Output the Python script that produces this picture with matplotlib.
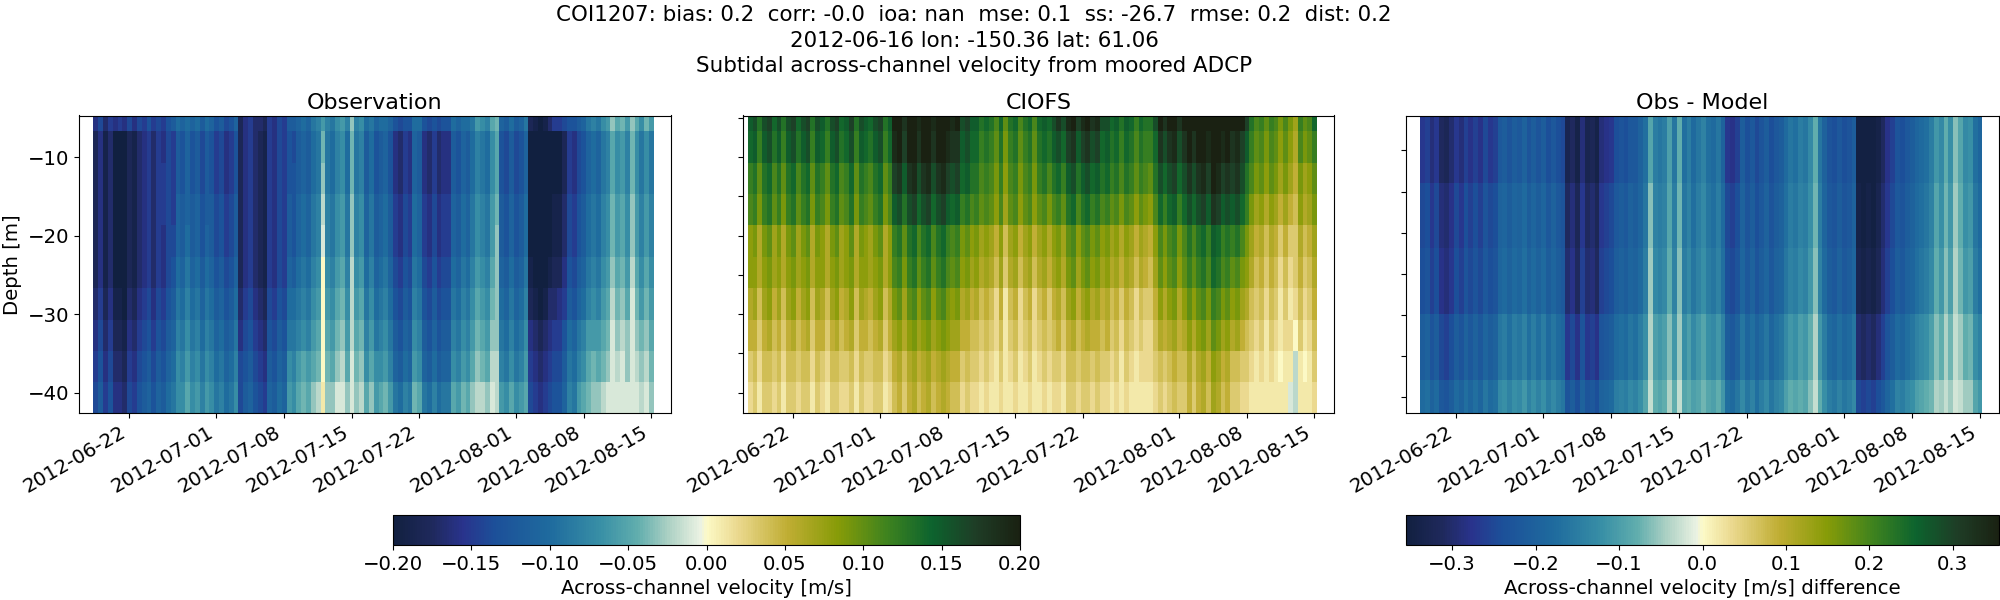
import numpy as np
import pandas as pd
import matplotlib
matplotlib.use('Agg')
import matplotlib.pyplot as plt
import matplotlib.dates as mdates
from matplotlib.colors import LinearSegmentedColormap

# across-channel velocity, cm/s, one list per depth bin
obs_06 = [-16,-14,-17,-15,-16,-15,-16,-14,-16,-14,-15,-13,-15,-14,-15,-13,-12,-10,-11,-10,
 -11,-10,-12,-10,-11,-13,-12,-14,-13,-11,-18,-16,-15,-17,-17,-18,-15,-16,-14,-15,
 -12,-12,-11,-10,-11,-9,-8,-6,-8,-9,-7,-6,-8,-3,-8,-7,-10,-9,-11,-10,
 -10,-11,-13,-14,-13,-13,-10,-10,-13,-14,-13,-14,-13,-13,-10,-11,-10,-10,-9,-6,
 -7,-8,-5,-4,-11,-12,-10,-12,-11,-9,-18,-19,-20,-19,-17,-15,-15,-14,-13,-13,
 -12,-11,-9,-8,-9,-7,-6,-3,-5,-4,-6,-3,-5,-7,-4,-6]
obs_09 = [-18,-16,-19,-17,-20,-20,-21,-18,-19,-17,-16,-15,-17,-15,-16,-14,-15,-12,-13,-11,
 -13,-12,-14,-12,-13,-15,-14,-16,-15,-13,-18,-16,-15,-17,-18,-19,-15,-16,-14,-15,
 -13,-14,-12,-11,-12,-10,-9,-4,-9,-10,-8,-7,-10,-4,-9,-8,-12,-10,-13,-12,
 -11,-13,-16,-17,-15,-16,-11,-12,-16,-17,-15,-17,-16,-16,-12,-13,-11,-12,-10,-8,
 -9,-10,-7,-5,-13,-14,-12,-14,-13,-11,-21,-22,-23,-22,-21,-20,-20,-18,-15,-16,
 -14,-13,-11,-10,-11,-9,-8,-5,-7,-6,-8,-4,-7,-9,-7,-9]
obs_13 = [-18,-16,-19,-17,-20,-20,-21,-18,-19,-17,-16,-15,-17,-15,-15,-14,-15,-12,-13,-11,
 -13,-12,-14,-12,-13,-15,-14,-16,-15,-13,-18,-16,-15,-17,-18,-19,-15,-16,-14,-15,
 -13,-13,-12,-11,-12,-10,-9,-3,-9,-10,-8,-7,-10,-4,-9,-8,-12,-10,-13,-12,
 -11,-13,-16,-17,-15,-16,-11,-12,-16,-17,-15,-17,-16,-16,-12,-13,-11,-12,-10,-8,
 -9,-10,-7,-5,-13,-14,-12,-14,-13,-11,-21,-22,-23,-22,-21,-20,-20,-18,-15,-16,
 -14,-13,-11,-10,-11,-9,-8,-5,-7,-6,-8,-4,-7,-9,-7,-9]
obs_17 = [-18,-16,-19,-17,-20,-20,-21,-18,-19,-17,-16,-15,-17,-15,-15,-14,-15,-11,-12,-11,
 -12,-11,-13,-12,-12,-14,-13,-15,-14,-12,-18,-16,-15,-17,-18,-19,-15,-16,-14,-15,
 -12,-13,-11,-10,-11,-9,-8,-2,-8,-9,-7,-6,-9,-3,-8,-7,-11,-9,-12,-11,
 -10,-12,-15,-16,-14,-15,-10,-11,-15,-16,-14,-16,-15,-15,-11,-12,-10,-11,-9,-7,
 -8,-9,-6,-4,-12,-13,-11,-13,-12,-10,-20,-21,-22,-21,-20,-19,-19,-17,-14,-15,
 -13,-12,-10,-9,-10,-8,-7,-4,-6,-5,-7,-3,-6,-8,-6,-8]
obs_21 = [-18,-16,-19,-17,-20,-20,-21,-18,-19,-17,-16,-15,-17,-15,-16,-14,-14,-11,-12,-10,
 -12,-11,-13,-11,-12,-14,-13,-15,-14,-12,-18,-16,-15,-17,-18,-19,-15,-16,-14,-15,
 -12,-13,-11,-10,-11,-9,-8,-1,-8,-9,-7,-6,-9,-3,-8,-7,-11,-9,-12,-11,
 -10,-12,-15,-16,-14,-15,-10,-11,-15,-16,-14,-16,-15,-15,-11,-12,-10,-11,-9,-7,
 -8,-9,-6,-3,-12,-13,-11,-13,-12,-10,-20,-21,-22,-21,-20,-19,-19,-17,-14,-15,
 -13,-12,-10,-9,-10,-8,-7,-4,-6,-5,-7,-3,-6,-8,-6,-8]
obs_25 = [-18,-16,-19,-17,-20,-20,-21,-18,-19,-17,-16,-15,-17,-15,-16,-14,-13,-10,-11,-9,
 -11,-10,-12,-10,-11,-13,-12,-14,-13,-11,-18,-16,-15,-17,-18,-19,-15,-16,-14,-15,
 -11,-12,-10,-9,-10,-8,-7,0,-7,-8,-6,-5,-8,-2,-7,-6,-10,-8,-11,-10,
 -9,-11,-14,-15,-13,-14,-9,-10,-14,-15,-13,-15,-14,-14,-10,-11,-9,-10,-8,-6,
 -7,-8,-5,-3,-11,-12,-10,-12,-11,-9,-19,-20,-21,-20,-19,-18,-18,-16,-13,-14,
 -12,-11,-9,-8,-9,-7,-6,-3,-5,-4,-6,-2,-5,-7,-5,-7]
obs_29 = [-17,-15,-18,-16,-19,-19,-20,-17,-18,-16,-15,-14,-16,-14,-15,-13,-12,-9,-10,-8,
 -10,-9,-11,-9,-10,-12,-11,-13,-12,-10,-17,-15,-14,-16,-17,-18,-14,-15,-13,-14,
 -10,-10,-9,-8,-9,-7,-6,0,-6,-7,-5,-4,-7,-2,-6,-5,-9,-7,-10,-9,
 -8,-10,-13,-14,-12,-13,-8,-9,-13,-14,-12,-14,-13,-13,-9,-10,-8,-9,-7,-5,
 -6,-7,-4,-3,-10,-11,-9,-11,-10,-8,-18,-19,-20,-19,-17,-17,-16,-15,-12,-13,
 -11,-10,-8,-7,-8,-6,-5,-2,-4,-3,-5,-1,-4,-6,-4,-6]
obs_33 = [-16,-14,-17,-15,-18,-18,-19,-16,-17,-15,-14,-13,-15,-13,-14,-12,-11,-8,-9,-7,
 -9,-8,-10,-8,-9,-11,-10,-12,-11,-9,-16,-14,-13,-15,-16,-17,-13,-14,-12,-13,
 -9,-9,-8,-7,-8,-6,-5,0,-5,-6,-4,-3,-6,-2,-5,-4,-8,-6,-9,-8,
 -7,-9,-12,-13,-11,-12,-7,-8,-12,-13,-11,-13,-12,-12,-8,-9,-7,-8,-6,-4,
 -5,-6,-3,-3,-9,-10,-8,-10,-9,-7,-16,-17,-18,-17,-16,-15,-15,-13,-10,-11,
 -9,-8,-6,-6,-6,-5,-4,-1,-3,-2,-3,-1,-3,-4,-3,-5]
obs_37 = [-15,-13,-16,-14,-17,-17,-18,-15,-16,-14,-13,-12,-14,-12,-13,-11,-10,-7,-8,-6,
 -8,-7,-9,-7,-8,-10,-9,-11,-10,-8,-14,-13,-12,-14,-15,-16,-12,-13,-11,-12,
 -7,-8,-6,-5,-6,-5,-4,0,-4,-5,-3,-2,-5,-1,-4,-3,-7,-5,-7,-7,
 -6,-8,-11,-12,-10,-11,-6,-7,-11,-12,-10,-12,-11,-11,-7,-8,-6,-7,-5,-3,
 -4,-5,-2,-2,-8,-9,-7,-9,-8,-6,-15,-16,-17,-16,-15,-14,-14,-12,-9,-10,
 -8,-7,-5,-4,-5,-4,-3,-1,-2,-1,-3,-1,-2,-3,-2,-4]
obs_41 = [-14,-12,-15,-13,-16,-16,-17,-14,-15,-13,-12,-11,-13,-11,-12,-10,-9,-7,-7,-5,
 -7,-6,-8,-6,-7,-9,-8,-10,-9,-7,-14,-12,-11,-13,-14,-15,-11,-12,-10,-11,
 -6,-7,-5,-4,-5,-3,-2,1,-3,-3,-1,-1,-3,-1,-3,-2,-5,-3,-6,-5,
 -4,-6,-9,-10,-8,-9,-4,-5,-9,-10,-8,-10,-9,-9,-5,-6,-4,-5,-3,-2,
 -2,-3,-1,-2,-6,-7,-5,-7,-6,-5,-14,-15,-16,-15,-14,-13,-13,-11,-8,-9,
 -6,-5,-4,-3,-3,-2,-1,-1,-1,-1,-1,-1,-1,-2,-1,-3]

mod_06 = [15,16,13,16,17,14,16,13,16,17,14,16,17,13,16,15,13,16,17,14,
 15,17,13,16,15,14,16,17,13,15,20,21,18,21,22,19,21,22,19,21,
 22,20,19,20,16,17,15,15,13,14,13,11,14,10,13,14,11,13,14,11,
 14,15,14,16,18,16,19,20,17,19,20,18,19,16,16,14,15,13,15,14,
 12,14,13,13,16,20,18,20,21,18,20,22,20,22,23,21,24,23,21,22,
 21,22,20,17,13,11,12,10,12,11,9,11,9,7,12,10,11,14]
mod_09 = [14,15,12,15,16,13,15,12,15,16,13,15,16,12,15,14,12,15,16,13,
 14,16,12,15,14,13,15,16,12,14,19,20,17,20,21,18,20,21,18,20,
 21,19,18,18,15,16,14,14,12,13,12,10,13,9,12,13,10,12,13,10,
 13,14,13,15,16,14,17,18,15,17,18,16,17,14,15,13,14,12,14,13,
 11,13,12,12,14,18,16,18,19,16,18,20,18,20,21,19,22,21,19,20,
 18,19,17,15,12,10,11,9,11,10,8,10,8,6,11,9,10,12]
mod_13 = [12,13,10,13,14,11,13,10,13,14,11,13,14,10,13,12,10,13,14,11,
 12,14,10,13,12,11,13,14,10,12,17,18,15,18,19,16,18,19,16,18,
 19,17,16,17,14,15,13,13,11,12,11,9,12,8,11,12,9,11,12,9,
 12,13,11,13,14,12,15,16,13,15,16,14,15,13,14,12,13,11,13,12,
 10,12,11,10,13,16,14,16,17,14,16,18,16,18,19,17,20,19,17,18,
 17,18,16,13,11,9,10,8,10,9,7,9,7,5,9,7,8,10]
mod_17 = [11,12,9,12,13,10,12,9,12,13,10,12,13,9,12,11,9,12,13,10,
 11,13,9,12,11,10,12,13,9,11,15,16,13,16,17,14,16,17,14,16,
 17,15,14,15,12,13,11,12,10,11,10,8,11,7,10,11,8,10,11,8,
 10,11,9,11,12,10,13,14,11,13,14,12,13,11,12,10,11,9,11,10,
 8,10,9,8,11,14,12,14,15,12,14,16,14,16,17,15,18,17,15,16,
 15,16,14,12,9,7,8,6,8,7,5,7,5,4,8,6,7,9]
mod_21 = [8,9,6,9,10,7,9,6,9,10,7,9,10,6,9,8,6,9,10,7,
 8,10,6,9,8,7,9,10,6,8,12,13,10,13,14,11,13,14,11,13,
 14,12,11,12,9,10,8,9,7,8,7,5,8,4,7,8,5,7,8,5,
 7,8,6,8,9,7,10,11,8,10,11,9,10,8,9,7,8,6,8,7,
 5,7,6,5,8,11,9,11,12,9,11,13,11,13,14,12,15,14,12,13,
 12,13,11,9,7,5,6,4,6,5,3,5,3,3,6,4,5,7]
mod_25 = [8,8,6,8,9,7,8,6,8,9,7,8,9,6,8,8,6,8,9,7,
 8,9,6,8,8,7,8,9,6,8,11,12,9,12,13,10,12,13,10,12,
 13,11,10,11,8,9,7,8,6,7,6,4,7,3,6,7,4,6,7,4,
 6,7,5,7,8,6,9,10,7,9,10,8,9,7,8,6,7,5,7,6,
 4,6,5,4,7,10,8,10,11,8,10,12,10,12,13,11,14,13,11,12,
 10,11,9,8,6,4,5,3,5,4,2,4,2,3,5,3,4,6]
mod_29 = [6,7,4,7,8,5,7,4,7,8,5,7,8,4,7,6,4,7,8,5,
 6,8,4,7,6,5,7,8,4,6,9,10,7,10,11,8,10,11,8,10,
 11,9,8,9,6,7,5,6,4,5,4,2,5,1,4,5,2,4,5,2,
 4,5,3,5,6,4,7,8,5,7,8,6,7,5,6,4,5,3,5,4,
 2,4,3,3,5,8,6,8,9,6,8,10,8,10,11,9,12,11,9,10,
 8,9,7,6,4,3,4,2,4,3,1,3,1,2,4,2,3,5]
mod_33 = [5,5,3,5,6,4,5,3,5,6,4,5,6,3,5,5,3,5,6,4,
 5,6,3,5,5,4,5,6,3,5,7,8,6,8,9,7,8,9,7,8,
 9,8,7,7,5,5,4,4,3,4,3,2,4,1,3,4,2,3,4,2,
 3,4,3,4,5,3,5,6,4,5,6,5,5,4,5,3,4,2,4,3,
 2,3,2,2,4,6,5,6,7,5,6,8,6,8,9,7,10,9,7,8,
 6,7,5,4,3,2,3,1,3,2,1,2,2,0,3,1,2,4]
mod_37 = [3,4,2,4,4,3,4,2,4,4,3,4,4,2,4,3,2,4,4,3,
 3,4,2,4,3,3,4,4,2,3,5,6,4,6,7,5,6,7,5,6,
 7,6,5,5,3,4,3,3,2,3,2,1,3,1,2,3,1,2,3,1,
 2,3,2,3,3,2,4,4,3,4,4,3,4,3,3,2,3,1,3,2,
 1,2,2,2,3,4,3,4,5,4,4,6,4,6,7,5,8,7,5,6,
 4,4,3,3,2,1,2,1,2,1,0,1,1,-2,1,0,1,3]
mod_41 = [2,3,1,3,3,2,3,1,3,3,2,3,3,1,3,2,1,3,3,2,
 2,3,1,3,2,2,3,3,1,2,4,5,3,5,6,4,5,6,4,5,
 6,5,4,4,2,3,2,2,1,2,1,1,2,1,1,2,1,1,2,1,
 1,2,1,2,2,1,3,3,2,3,3,2,3,2,2,1,2,1,2,1,
 1,1,1,1,2,3,2,3,4,3,3,5,3,5,6,4,7,6,4,5,
 3,3,2,2,1,1,1,1,1,1,1,1,-1,-2,1,1,1,2]

diff_10 = [-27,-26,-29,-27,-31,-32,-30,-27,-29,-26,-28,-26,-28,-25,-27,-26,-22,-21,-23,-21,
 -22,-20,-23,-21,-23,-21,-24,-22,-24,-25,-33,-31,-34,-29,-33,-32,-34,-29,-28,-27,
 -24,-23,-24,-22,-22,-20,-17,-9,-15,-16,-15,-10,-16,-8,-17,-15,-18,-16,-14,-17,
 -18,-16,-20,-27,-28,-26,-21,-24,-22,-25,-23,-21,-24,-22,-21,-18,-16,-17,-15,-16,
 -13,-8,-16,-20,-23,-24,-22,-24,-23,-21,-35,-35,-35,-35,-34,-31,-28,-26,-23,-24,
 -22,-21,-19,-18,-17,-15,-11,-13,-8,-12,-6,-9,-13,-12,-17,-19]
diff_18 = [-25,-24,-27,-25,-29,-30,-28,-25,-27,-24,-26,-24,-26,-23,-25,-24,-20,-19,-21,-19,
 -20,-18,-21,-19,-21,-19,-22,-20,-22,-23,-31,-29,-32,-27,-31,-30,-32,-27,-26,-25,
 -22,-21,-22,-20,-21,-19,-16,-6,-14,-15,-14,-9,-15,-7,-16,-14,-17,-15,-13,-16,
 -17,-15,-18,-25,-26,-24,-20,-23,-21,-24,-22,-20,-23,-21,-20,-17,-15,-16,-14,-15,
 -12,-7,-15,-19,-22,-23,-21,-23,-22,-20,-34,-35,-34,-35,-33,-30,-27,-25,-22,-23,
 -21,-20,-18,-17,-16,-14,-9,-12,-7,-11,-5,-8,-12,-11,-16,-18]
diff_26 = [-24,-23,-26,-24,-28,-29,-27,-24,-26,-23,-25,-23,-25,-22,-24,-23,-19,-18,-20,-18,
 -19,-17,-20,-18,-20,-18,-21,-19,-21,-22,-30,-28,-31,-26,-30,-29,-31,-26,-25,-24,
 -21,-20,-21,-19,-20,-18,-15,-5,-13,-14,-13,-8,-14,-6,-15,-13,-16,-14,-12,-15,
 -16,-14,-17,-24,-25,-23,-19,-22,-20,-23,-21,-19,-22,-20,-19,-16,-14,-15,-13,-14,
 -11,-6,-14,-18,-21,-22,-20,-22,-21,-19,-33,-34,-33,-34,-32,-29,-26,-24,-21,-22,
 -20,-19,-17,-16,-15,-13,-8,-11,-6,-10,-4,-7,-11,-10,-15,-17]
diff_34 = [-21,-20,-23,-21,-25,-26,-24,-21,-23,-20,-22,-20,-22,-19,-21,-20,-16,-15,-17,-15,
 -16,-14,-17,-15,-17,-15,-18,-16,-18,-19,-27,-25,-28,-23,-27,-26,-28,-23,-22,-21,
 -18,-17,-18,-16,-17,-15,-12,-4,-10,-11,-10,-6,-11,-5,-12,-10,-13,-11,-9,-12,
 -13,-11,-14,-21,-22,-20,-16,-19,-17,-20,-18,-16,-19,-17,-16,-13,-11,-12,-10,-11,
 -8,-4,-11,-15,-18,-19,-17,-19,-18,-16,-30,-31,-30,-31,-29,-26,-23,-21,-18,-19,
 -17,-16,-14,-13,-12,-10,-6,-8,-4,-7,-3,-5,-8,-7,-12,-14]
diff_40 = [-18,-17,-20,-18,-22,-23,-21,-18,-20,-17,-19,-17,-19,-16,-18,-17,-13,-12,-14,-12,
 -13,-11,-14,-12,-14,-12,-15,-13,-15,-16,-23,-21,-24,-20,-23,-22,-24,-20,-19,-18,
 -15,-14,-15,-13,-14,-12,-9,-3,-8,-9,-8,-4,-8,-3,-9,-8,-10,-9,-7,-9,
 -10,-8,-11,-17,-18,-16,-13,-16,-14,-17,-15,-13,-16,-14,-13,-10,-8,-9,-8,-9,
 -6,-3,-8,-12,-15,-16,-14,-16,-15,-13,-25,-26,-25,-26,-24,-22,-19,-17,-14,-15,
 -13,-12,-10,-9,-8,-7,-4,-5,-3,-5,-2,-3,-5,-5,-9,-11]

depth_edges = [-4.7, -6.7, -10.7, -14.7, -18.7, -22.7, -26.7, -30.7, -34.7, -38.7, -42.7]
diff_edges = [-5.76, -13.9, -21.9, -29.9, -37.9, -41.9]
tick_dates = ['2012-06-22', '2012-07-01', '2012-07-08', '2012-07-15',
              '2012-07-22', '2012-08-01', '2012-08-08', '2012-08-15']

obs = np.array([obs_06, obs_09, obs_13, obs_17, obs_21, obs_25, obs_29, obs_33, obs_37, obs_41]) / 100
mod = np.array([mod_06, mod_09, mod_13, mod_17, mod_21, mod_25, mod_29, mod_33, mod_37, mod_41]) / 100
diff = np.array([diff_10, diff_18, diff_26, diff_34, diff_40]) / 100

t_obs = pd.date_range('2012-06-18 06:45', periods=obs.shape[1] + 1, freq='12h')
t_mod = pd.date_range('2012-06-17 06:45', periods=mod.shape[1] + 1, freq='12h')

# cmocean delta, approximated
delta = LinearSegmentedColormap.from_list('delta', [
    (0.0, (0.067, 0.125, 0.25)), (0.06, (0.12, 0.16, 0.36)), (0.11, (0.16, 0.2, 0.55)),
    (0.16, (0.11, 0.31, 0.6)), (0.25, (0.12, 0.42, 0.62)), (0.33, (0.22, 0.56, 0.65)),
    (0.39, (0.38, 0.68, 0.68)), (0.44, (0.68, 0.82, 0.77)), (0.49, (0.92, 0.95, 0.89)),
    (0.5, (0.99, 0.98, 0.78)), (0.55, (0.92, 0.85, 0.56)), (0.63, (0.75, 0.68, 0.2)),
    (0.71, (0.53, 0.61, 0.03)), (0.79, (0.24, 0.51, 0.12)), (0.86, (0.05, 0.39, 0.18)),
    (0.93, (0.12, 0.24, 0.15)), (1.0, (0.1, 0.13, 0.07))])

plt.rcParams['font.size'] = 14.2
W, H = 2000, 600
fig = plt.figure(figsize=(W / 100, H / 100), dpi=100)


def px_axes(left, right, top, bottom):
    return fig.add_axes([left / W, 1 - bottom / H, (right - left) / W, (bottom - top) / H])


def setup_time(ax):
    ax.set_xlim(pd.Timestamp('2012-06-16 19:00'), pd.Timestamp('2012-08-17 01:00'))
    ax.set_xticks(pd.to_datetime(tick_dates))
    ax.xaxis.set_major_formatter(mdates.DateFormatter('%Y-%m-%d'))
    plt.setp(ax.get_xticklabels(), rotation=30, ha='right')


ax1 = px_axes(79, 671, 115.5, 413)
pc1 = ax1.pcolormesh(t_obs, depth_edges, obs, cmap=delta, vmin=-0.2, vmax=0.2)
ax1.set_ylim(-42.6, -4.7)
ax1.set_yticks([-10, -20, -30, -40])
ax1.set_ylabel('Depth [m]')
ax1.set_title('Observation', fontsize=16, pad=5)
setup_time(ax1)

ax2 = px_axes(743, 1334, 115.5, 413)
ax2.pcolormesh(t_mod, depth_edges, mod, cmap=delta, vmin=-0.2, vmax=0.2)
ax2.set_ylim(-42.6, -4.7)
ax2.set_yticks([-5, -10, -15, -20, -25, -30, -35, -40])
ax2.set_yticklabels([])
ax2.set_title('CIOFS', fontsize=16, pad=5)
setup_time(ax2)

ax3 = px_axes(1405.5, 1999.5, 115.5, 413)
pc3 = ax3.pcolormesh(t_obs, diff_edges, diff, cmap=delta, vmin=-0.356, vmax=0.356)
ax3.set_ylim(-41.9, -5.76)
ax3.set_yticks([-10, -15, -20, -25, -30, -35, -40])
ax3.set_yticklabels([])
ax3.set_title('Obs - Model', fontsize=16, pad=5)
setup_time(ax3)

cax1 = px_axes(393, 1020, 514.5, 545)
cb1 = fig.colorbar(pc1, cax=cax1, orientation='horizontal')
cb1.set_label('Across-channel velocity [m/s]')
cax3 = px_axes(1405.5, 1999.5, 514.5, 545)
cb3 = fig.colorbar(pc3, cax=cax3, orientation='horizontal')
cb3.set_label('Across-channel velocity [m/s] difference')

fig.suptitle('COI1207: bias: 0.2  corr: -0.0  ioa: nan  mse: 0.1  ss: -26.7  rmse: 0.2  dist: 0.2\n'
             '2012-06-16 lon: -150.36 lat: 61.06\n'
             'Subtidal across-channel velocity from moored ADCP',
             fontsize=15.4, x=0.487, y=0.992, linespacing=1.36)

fig.savefig('out.png', dpi=100)
